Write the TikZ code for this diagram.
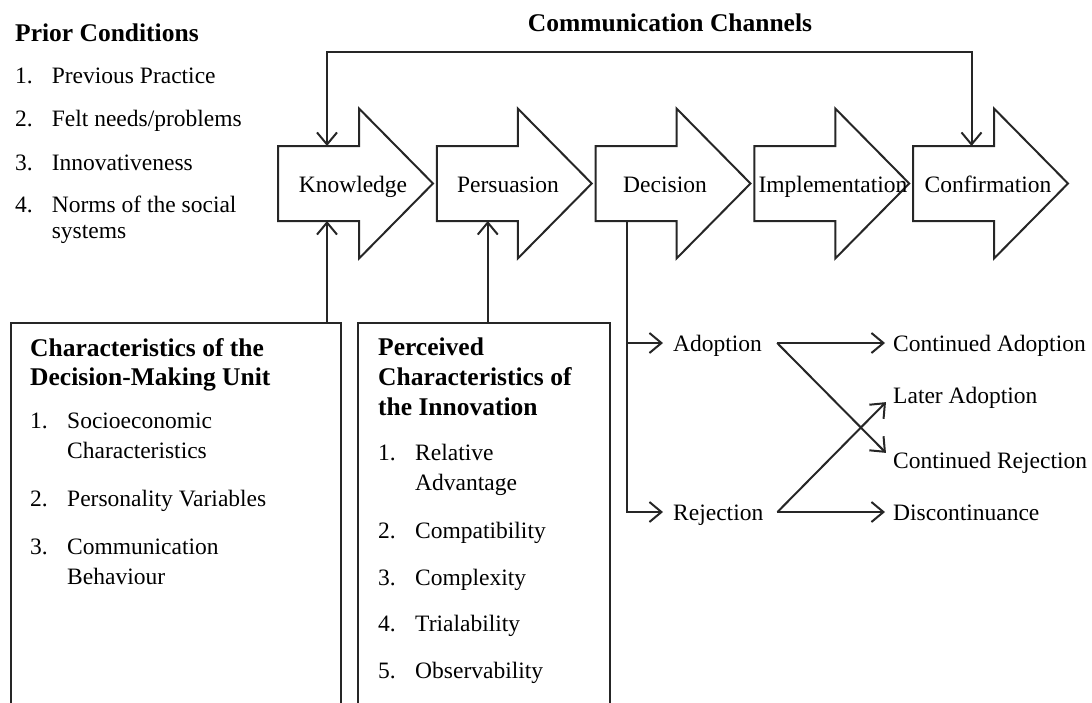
\documentclass[tikz,border=0pt]{standalone}
\usepackage{fontspec}
\setmainfont{Liberation Serif}
\usetikzlibrary{arrows.meta,calc}

% outline of one stage arrow around its body node
\newcommand\stageoutline[1]{%
  \draw[outline] (#1.north west) -- (#1.north east) -- ++(0,-37.5)
    -- ($(#1.east)+(74,0)$) -- ($(#1.south east)+(0,37.5)$)
    -- (#1.south east) -- (#1.south west) -- cycle;}

\begin{document}
\begin{tikzpicture}[x=1pt,y=-1pt,
  ink/.style={draw=black!85, line width=2pt},
  outline/.style={ink, line join=miter},
  barb/.tip={Straight Barb[length=12pt,width=20pt]},
  arr/.style={ink, -barb},
  dual/.style={ink, barb-barb},
  stagebody/.style={minimum width=81pt, minimum height=75pt, inner sep=0pt, outer sep=0pt},
  lbl/.style={font=\fontsize{23.5}{28}\selectfont, inner sep=0pt, text height=17pt, text depth=1pt},
  head/.style={font=\bfseries\fontsize{25.5}{29}\selectfont, inner sep=0pt},
  listtxt/.style={font=\fontsize{23.5}{30}\selectfont, inner sep=0pt},
  framebox/.style={ink, minimum height=400pt, inner sep=0pt, anchor=north west},
]
\useasboundingbox (0,0) rectangle (1092,702);

% ---- prior conditions ----
\node[head, anchor=base west] (prior) at (15,41) {Prior Conditions};
\node[listtxt, font=\fontsize{23.5}{26}\selectfont, anchor=base west] (priorlist) at (15,83)
  {\begin{tabular}[t]{@{}l@{\hspace{19pt}}l@{}}
   1. & Previous Practice\\[17pt]
   2. & Felt needs/problems\\[18pt]
   3. & Innovativeness\\[16pt]
   4. & Norms of the social\\
      & systems
   \end{tabular}};

% ---- communication channels ----
\node[head, anchor=base] (chantitle) at (670,31) {Communication Channels};

% ---- stage arrows ----
\node[stagebody] (know) at (318.5,183.5) {};
\node[stagebody] (pers) at (477.25,183.5) {};
\node[stagebody] (deci) at (636,183.5) {};
\node[stagebody] (impl) at (794.75,183.5) {};
\node[stagebody] (conf) at (953.5,183.5) {};
\stageoutline{know}
\stageoutline{pers}
\stageoutline{deci}
\stageoutline{impl}
\stageoutline{conf}

\node[lbl] (knowtxt) at (353,184) {Knowledge};
\node[lbl] (perstxt) at (508,184) {Persuasion};
\node[lbl] (decitxt) at (665,184) {Decision};
\node[lbl] (impltxt) at (833,184) {Implementation};
\node[lbl] (conftxt) at (988,184) {Confirmation};

% feedback loop over the stages
\coordinate (ktop) at ($(know.north west)+(49,0)$);
\coordinate (ctop) at ($(conf.north west)+(58.5,0)$);
\coordinate (loop) at (650,52);
\draw[dual] (ktop) |- (loop) -| (ctop);

% ---- influencing boxes ----
\begin{scope}
  \clip (0,0) rectangle (1092,702);
  \node[framebox, minimum width=330pt] (unit) at (10,322) {};
  \node[framebox, minimum width=252pt] (innov) at (357,322) {};
\end{scope}

\node[head, font=\bfseries\fontsize{25.5}{29}\selectfont, anchor=base west] (unittitle) at (30,356)
  {\begin{tabular}[t]{@{}l@{}}Characteristics of the\\Decision-Making Unit\end{tabular}};
\node[listtxt, anchor=base west] (unitlist) at (30,428)
  {\begin{tabular}[t]{@{}l@{\hspace{19.4pt}}l@{}}
   1. & Socioeconomic\\
      & Characteristics\\[18.5pt]
   2. & Personality Variables\\[17.5pt]
   3. & Communication\\
      & Behaviour
   \end{tabular}};

\node[head, font=\bfseries\fontsize{25.5}{30}\selectfont, anchor=base west] (innovtitle) at (378,355)
  {\begin{tabular}[t]{@{}l@{}}Perceived\\Characteristics of\\the Innovation\end{tabular}};
\node[listtxt, anchor=base west] (innovlist) at (378,460)
  {\begin{tabular}[t]{@{}l@{\hspace{19.4pt}}l@{}}
   1. & Relative\\
      & Advantage\\[18pt]
   2. & Compatibility\\[17pt]
   3. & Complexity\\[16pt]
   4. & Trialability\\[17pt]
   5. & Observability
   \end{tabular}};

\coordinate (kfoot) at ($(know.south west)+(49,0)$);
\coordinate (pfoot) at ($(pers.south west)+(51,0)$);
\draw[arr] (unit.north -| kfoot) -- (kfoot);
\draw[arr] (innov.north -| pfoot) -- (pfoot);

% ---- decision outcomes ----
\node[lbl, anchor=west] (adopt) at (673,343) {Adoption};
\node[lbl, anchor=west] (rejec) at (673,512) {Rejection};
\node[lbl, anchor=west] (contad) at (893,343) {Continued Adoption};
\node[lbl, anchor=west] (later) at (893,395) {Later Adoption};
\node[lbl, anchor=west] (contrej) at (893,460) {Continued Rejection};
\node[lbl, anchor=west] (discont) at (893,512) {Discontinuance};

\coordinate (dfoot) at ($(deci.south west)+(31.5,0)$);
\draw[arr, shorten >=10pt] (dfoot) |- (rejec.west);
\draw[arr, shorten >=10pt] (dfoot |- adopt.west) -- (adopt.west);

\coordinate (adoptout) at ($(adopt.east)+(15,0)$);
\coordinate (rejout) at ($(rejec.east)+(14,0)$);
\draw[arr, shorten >=8pt] (adoptout) -- (contad.west);
\draw[arr, shorten >=10pt] (adoptout) -- (contrej.west);
\draw[arr, shorten >=8pt] (rejout) -- (discont.west);
\draw[arr, shorten >=10pt] (rejout) -- (later.west);

\end{tikzpicture}
\end{document}
